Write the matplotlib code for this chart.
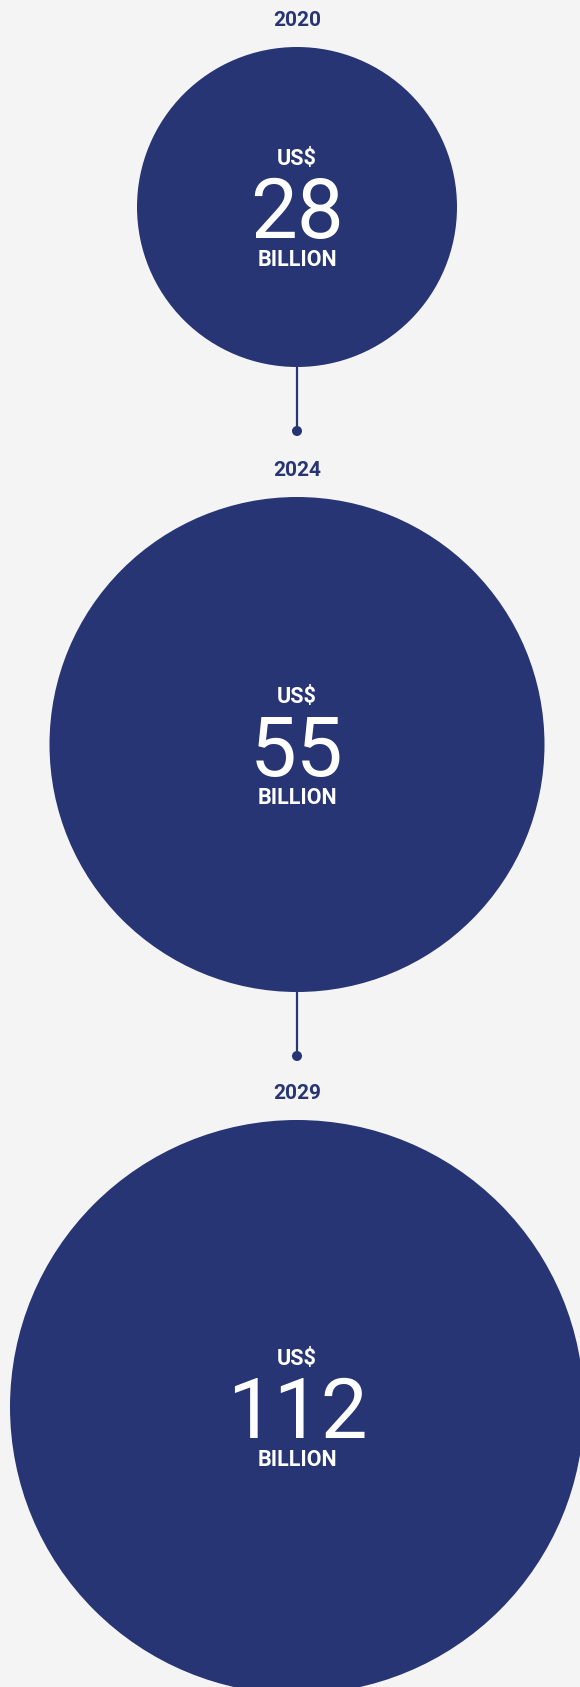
import matplotlib.pyplot as plt
from matplotlib.patches import Circle

# market size, US$ billion
years = ['2020', '2024', '2029']
values = [28, 55, 112]
unit_top = 'US$'
unit_bottom = 'BILLION'

# layout (pixels)
W, H = 580, 1687
cx = 297
radii = [160, 247.5, 287]
tops = [47, 497, 1120]
navy = '#283574'
bg = '#f4f4f4'

plt.rcParams['font.family'] = ['Roboto', 'DejaVu Sans']

fig = plt.figure(figsize=(W / 100, H / 100), dpi=100, facecolor=bg)
ax = fig.add_axes([0, 0, 1, 1])
ax.set_xlim(0, W)
ax.set_ylim(H, 0)
ax.axis('off')
ax.set_facecolor(bg)

for i, (yr, val, r, top) in enumerate(zip(years, values, radii, tops)):
    cy = top + r
    ax.add_patch(Circle((cx, cy), r, color=navy, lw=0, zorder=2))
    ax.text(cx, top - 21, yr, ha='center', va='baseline', fontsize=15,
            fontweight='bold', color=navy)
    ax.text(cx, cy - 42, unit_top, ha='center', va='baseline', fontsize=15.5,
            fontweight='bold', color='white', zorder=3)
    ax.text(cx, cy + 31, str(val), ha='center', va='baseline', fontsize=60,
            fontweight='normal', color='white', zorder=3)
    ax.text(cx, cy + 59, unit_bottom, ha='center', va='baseline', fontsize=15.5,
            fontweight='bold', color='white', zorder=3)
    # connector to next circle
    if i < len(years) - 1:
        bottom = cy + r
        ax.plot([cx, cx], [bottom, bottom + 64], color=navy, lw=1.6, zorder=1)
        ax.add_patch(Circle((cx, bottom + 64), 5, color=navy, lw=0, zorder=2))

fig.savefig('out.png', dpi=100, facecolor=bg)
